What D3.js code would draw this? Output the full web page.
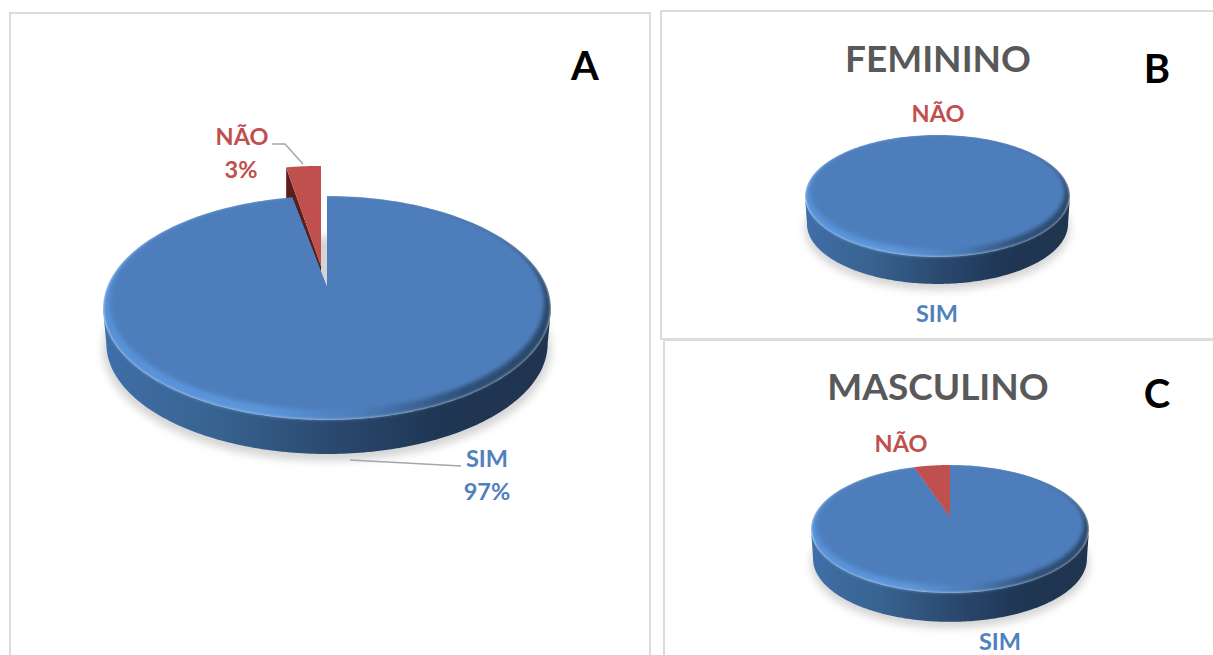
<!DOCTYPE html>
<html lang="pt">
<head>
<meta charset="utf-8">
<script src="https://cdn.jsdelivr.net/npm/d3@7"></script>
<style>
  html, body { margin: 0; padding: 0; background: #fff; overflow: hidden; }
  svg { display: block; }
  text { font-family: Lato, "Open Sans", sans-serif; font-weight: 700; }
</style>
</head>
<body>
<svg id="chart" width="1213" height="655"></svg>
<script>
// Respostas por grupo
const categories = ["SIM", "NÃO"];
const valuesTotal = [97, 3];
const valuesFeminino = [100, 0];
const valuesMasculino = [95, 5];
const titles = ["FEMININO", "MASCULINO"];
const panelLetters = ["A", "B", "C"];

const colors = { SIM: "#4f81bd", "NÃO": "#c0504d" };

const svg = d3.select("#chart");
const defs = svg.append("defs");

// Ground shadow and bevel softening
defs.append("filter").attr("id", "soft").attr("x", "-10%").attr("y", "-10%").attr("width", "120%").attr("height", "120%")
  .append("feGaussianBlur").attr("stdDeviation", 4);
defs.append("filter").attr("id", "bevel").attr("x", "-5%").attr("y", "-5%").attr("width", "110%").attr("height", "110%")
  .append("feGaussianBlur").attr("stdDeviation", 2);
defs.append("filter").attr("id", "rimBlur").attr("x", "-5%").attr("y", "-5%").attr("width", "110%").attr("height", "110%")
  .append("feGaussianBlur").attr("stdDeviation", 1.8);

function linearGradient(id, stops) {
  const g = defs.append("linearGradient").attr("id", id)
    .attr("x1", 0).attr("y1", 0).attr("x2", 1).attr("y2", 0);
  stops.forEach(([o, c]) => g.append("stop").attr("offset", o).attr("stop-color", c));
}
linearGradient("wall", [[0, "#3f6fa8"], [0.25, "#386390"], [0.5, "#2b4a70"], [0.75, "#1f3654"], [1, "#20344f"]]);
linearGradient("rim", [[0, "#5791d8"], [0.35, "#5c96dc"], [0.58, "#4b7cb9"], [0.8, "#2f5078"], [1, "#2a4669"]]);

// Panel frames
const frames = [
  { x: 10, y: 13, w: 640, h: 700 },
  { x: 661, y: 11, w: 600, h: 328 },
  { x: 664, y: 340, w: 600, h: 400 }
];
svg.selectAll("rect.frame").data(frames).join("rect")
  .attr("class", "frame")
  .attr("x", d => d.x).attr("y", d => d.y).attr("width", d => d.w).attr("height", d => d.h)
  .attr("fill", "#fff").attr("stroke", "#dcdcdc").attr("stroke-width", 2);

const pieLayout = d3.pie().sort(null).startAngle(0).endAngle(2 * Math.PI);

// Perspective view of a tilted disc: t is measured clockwise from the far edge.
function makeProjection(g) {
  const c = -(g.front - g.back) / (g.front + g.back);
  const a = g.front * (1 + c);
  const A = g.rx * Math.sqrt(1 - c * c);
  const project = (t, o = {}) => {
    const u = Math.sin(t), v = -Math.cos(t), w = 1 + c * v;
    const sx = o.sx === undefined ? 1 : o.sx, sy = o.sy === undefined ? sx : o.sy;
    return [g.cx + sx * A * u / w, g.cy + (o.dy || 0) + sy * a * v / w];
  };
  project.widest = Math.acos(c);
  return project;
}

function drawPie(g, values, clipId) {
  const project = makeProjection(g);
  const layer = svg.append("g");
  const line = d3.line();
  const arcs = pieLayout(values);
  const ring = (from, to, o) => d3.range(181).map(i => project(from + (to - from) * i / 180, o));
  const full = o => line(ring(0, 2 * Math.PI, o)) + "Z";
  const bottom = { sx: g.taper, dy: g.depth };

  layer.append("path").attr("d", full({ sx: g.taper * 1.015, dy: g.depth + 5 }))
    .attr("fill", "#d4d4d4").attr("filter", "url(#soft)");

  // Outer wall: the silhouette runs straight between the widest points of both rims
  const lo = project.widest, hi = 2 * Math.PI - lo;
  const wallD = line(ring(lo, hi).concat(ring(hi, lo, bottom))) + "Z";
  layer.append("path").attr("d", wallD).attr("fill", "url(#wall)");

  const sim = arcs[0], nao = arcs[1];
  const hasNao = nao.endAngle > nao.startAngle;
  const apex = [g.cx, g.cy];

  const sliceD = d => {
    const n = 180;
    const rim = d3.range(n + 1).map(i => project(d.startAngle + (d.endAngle - d.startAngle) * i / n));
    return d.endAngle - d.startAngle >= 2 * Math.PI - 1e-6 ? line(rim) + "Z" : line([apex, ...rim]) + "Z";
  };

  // Pulled-out slice with its dark inner wall, drawn behind the blue face
  if (hasNao && g.explode) {
    const e = g.explode;
    const shift = p => [p[0] + e.dx, g.cy + e.dy + (p[1] - g.cy) * e.sy];
    const tip = shift(apex), corner = shift(project(nao.startAngle));
    layer.append("path")
      .attr("d", line([corner, [corner[0], corner[1] + e.wall], [tip[0], tip[1] + e.wall], tip]) + "Z")
      .attr("fill", "#5a1f1d");
    const face = d3.range(41).map(i => shift(project(nao.startAngle + (nao.endAngle - nao.startAngle) * i / 40)));
    layer.append("path").attr("d", line([tip, ...face]) + "Z").attr("fill", colors["NÃO"]);
  }

  // Blue slice: soft bevel rim that melts into the wall, flat face on top
  const clip = defs.append("clipPath").attr("id", clipId);
  clip.append("path").attr("d", sliceD(sim));
  clip.append("path").attr("d", wallD);
  const simLayer = layer.append("g").attr("clip-path", `url(#${clipId})`);
  simLayer.append("path").attr("d", full()).attr("fill", "url(#rim)").attr("filter", "url(#rimBlur)");

  const faceClip = defs.append("clipPath").attr("id", clipId + "-face");
  faceClip.append("path").attr("d", sliceD(sim));
  const faceLayer = layer.append("g").attr("clip-path", `url(#${clipId}-face)`);
  faceLayer.append("path")
    .attr("d", full({ sx: 1 - g.bevel * 0.75 / g.rx, sy: 1 - g.bevel / g.rx, dy: -g.bevel * 0.42 - 1 }))
    .attr("fill", "#4d7ebb").attr("filter", "url(#bevel)");

  if (hasNao && !g.explode) {
    layer.append("path").attr("d", sliceD(nao)).attr("fill", colors["NÃO"]);
  }
}

drawPie({ cx: 327, cy: 287, rx: 224, back: 91, front: 133, depth: 36, taper: 0.985, bevel: 9,
          explode: { dx: -6, dy: -21, sy: 1.1, wall: 30 } }, valuesTotal, "clip-a");
drawPie({ cx: 937.5, cy: 185, rx: 132.5, back: 50, front: 72, depth: 28, taper: 0.985, bevel: 7 }, valuesFeminino, "clip-b");
drawPie({ cx: 950, cy: 517, rx: 139, back: 52, front: 76, depth: 30, taper: 0.985, bevel: 7 }, valuesMasculino, "clip-c");

// Leader lines
const leaders = [
  [[272, 144], [285, 144], [303, 164]],
  [[350, 460], [461, 466]]
];
svg.selectAll("path.leader").data(leaders).join("path")
  .attr("class", "leader")
  .attr("d", d3.line())
  .attr("fill", "none").attr("stroke", "#a6a6a6").attr("stroke-width", 1.5);

// Category and percentage labels
const labels = [
  { x: 242, y: 145, text: categories[1], color: colors["NÃO"] },
  { x: 241, y: 178, text: `${valuesTotal[1]}%`, color: colors["NÃO"] },
  { x: 487, y: 467, text: categories[0], color: colors.SIM },
  { x: 487, y: 500, text: `${valuesTotal[0]}%`, color: colors.SIM },
  { x: 938, y: 122, text: categories[1], color: colors["NÃO"] },
  { x: 937, y: 322, text: categories[0], color: colors.SIM },
  { x: 901, y: 452, text: categories[1], color: colors["NÃO"] },
  { x: 1000, y: 650, text: categories[0], color: colors.SIM }
];
svg.selectAll("text.label").data(labels).join("text")
  .attr("class", "label")
  .attr("x", d => d.x).attr("y", d => d.y)
  .attr("text-anchor", "middle").attr("font-size", 23.5)
  .attr("fill", d => d.color).text(d => d.text);

// Panel headings
svg.selectAll("text.heading").data([
  { x: 938, y: 72, text: titles[0] },
  { x: 938, y: 400, text: titles[1] }
]).join("text")
  .attr("class", "heading")
  .attr("x", d => d.x).attr("y", d => d.y)
  .attr("text-anchor", "middle").attr("font-size", 37)
  .attr("fill", "#595959").text(d => d.text);

svg.selectAll("text.letter").data([
  { x: 585, y: 80, text: panelLetters[0] },
  { x: 1157, y: 83, text: panelLetters[1] },
  { x: 1157, y: 408, text: panelLetters[2] }
]).join("text")
  .attr("class", "letter")
  .attr("x", d => d.x).attr("y", d => d.y)
  .attr("text-anchor", "middle").attr("font-size", 40)
  .attr("fill", "#000").text(d => d.text);
</script>
</body>
</html>
